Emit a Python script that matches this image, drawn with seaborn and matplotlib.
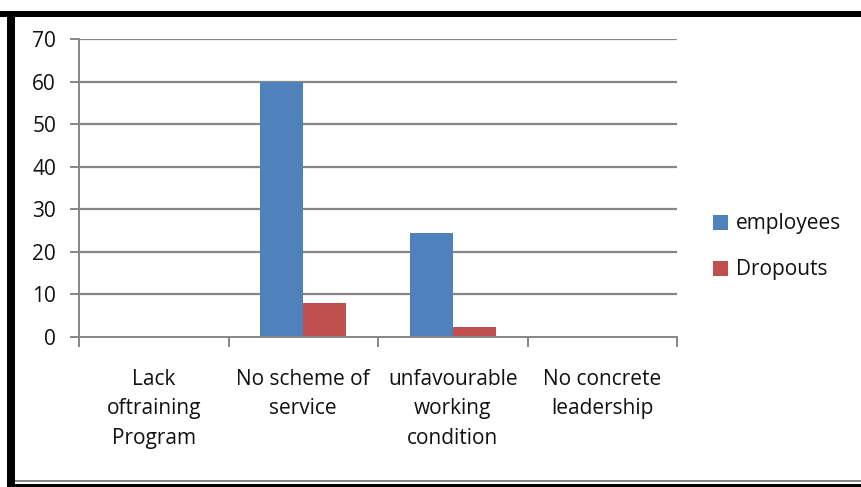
import matplotlib
matplotlib.use("Agg")
import matplotlib.pyplot as plt
from matplotlib.patches import Rectangle, Patch
from matplotlib.ticker import FixedLocator
import numpy as np
import pandas as pd
import seaborn as sns

# Survey responses: reasons cited for leaving
categories = ["Lack\noftraining\nProgram", "No scheme of\nservice",
              "unfavourable\nworking\ncondition", "No concrete\nleadership"]
employees = [0, 60, 24.4, 0]
dropouts = [0, 7.9, 2.3, 0]
series = ["employees", "Dropouts"]
y_ticks = [0, 10, 20, 30, 40, 50, 60, 70]

colors = ["#4F81BD", "#C0504D"]
grid_gray = "#868686"

df = pd.DataFrame({
    "category": categories * 2,
    "value": employees + dropouts,
    "series": [series[0]] * len(categories) + [series[1]] * len(categories),
})

sns.set_theme(style="white")
plt.rcParams["font.family"] = ["Open Sans", "DejaVu Sans"]

W, H = 861, 487
fig = plt.figure(figsize=(W / 100, H / 100), dpi=100)
ax = fig.add_axes([79 / W, 1 - 337 / H, (677 - 79) / W, (337 - 39) / H])

sns.barplot(data=df, x="category", y="value", hue="series", palette=colors,
            width=0.575, gap=0, saturation=1, linewidth=0, ax=ax,
            legend=False, order=categories, hue_order=series)

ax.set_xlim(-0.5, len(categories) - 0.5)
ax.set_ylim(0, 70)
ax.set_yticks(y_ticks)
ax.set_yticklabels([str(t) for t in y_ticks])
ax.set_xlabel("")
ax.set_ylabel("")

# horizontal gridlines
for t in y_ticks[1:]:
    ax.axhline(t, color=grid_gray, lw=1.6, zorder=0)

for side in ["top", "right"]:
    ax.spines[side].set_visible(False)
for side in ["left", "bottom"]:
    ax.spines[side].set_color(grid_gray)
    ax.spines[side].set_linewidth(1.4)

ax.tick_params(axis="y", length=6.5, width=1.4, color=grid_gray, direction="out",
               labelsize=15, pad=10, labelcolor="#111111", left=True)
ax.tick_params(axis="x", which="major", length=0, labelsize=15, pad=23,
               labelcolor="#111111")
ax.xaxis.set_minor_locator(FixedLocator(np.arange(-0.5, len(categories), 1.0)))
ax.tick_params(axis="x", which="minor", length=7.5, width=1.4, color=grid_gray,
               direction="out", bottom=True)
for lab in ax.get_xticklabels():
    lab.set_linespacing(1.52)
    lab.set_ha("center")

handles = [Patch(facecolor=c, edgecolor="none") for c in colors]
fig.legend(handles, series, loc="center left", bbox_to_anchor=(713 / W, 1 - 247 / H),
           frameon=False, fontsize=15, handlelength=0.7, handleheight=0.7,
           handletextpad=0.4, labelspacing=1.2, borderpad=0, borderaxespad=0,
           labelcolor="#111111")

# outer frame
k = "black"
fig.patches.append(Rectangle((0, 1 - 17 / H), 1, 6 / H, transform=fig.transFigure,
                             facecolor=k, edgecolor="none"))
fig.patches.append(Rectangle((7 / W, 0), 8 / W, 1 - 11 / H, transform=fig.transFigure,
                             facecolor=k, edgecolor="none"))
fig.patches.append(Rectangle((15 / W, 1 - 482 / H), 1, 2 / H, transform=fig.transFigure,
                             facecolor="#8a8a8a", edgecolor="none"))
fig.patches.append(Rectangle((7 / W, 0), 1, 3 / H, transform=fig.transFigure,
                             facecolor=k, edgecolor="none"))

fig.savefig("out.png", dpi=100)
